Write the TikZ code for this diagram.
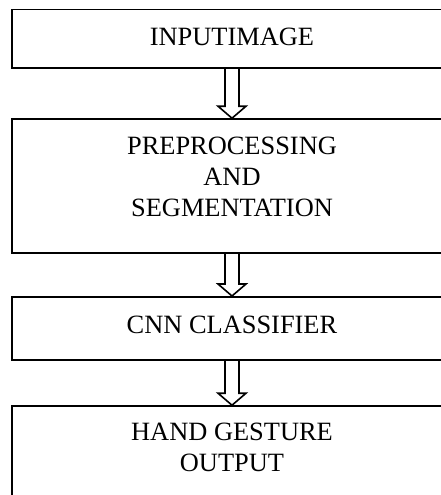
\documentclass[tikz,border=0pt]{standalone}
\usepackage{fontspec}
\setmainfont{Liberation Serif}
\usetikzlibrary{calc}
\tikzset{
  stagebox/.style={draw=black,line width=0.9pt,
                   minimum width=220pt,inner xsep=0pt,inner ysep=0pt,
                   anchor=base,align=center,
                   font=\fontsize{13.2}{15.5}\selectfont},
  hollowarr/.style={draw=black,line width=0.8pt,line join=miter}
}
% block arrow from the bottom of one box to the top of the next
\newcommand{\downarr}[2]{%
  \draw[hollowarr,xshift=0.8pt] let \p1=(#1.south), \p2=(#2.north) in
    (\x1-3.5pt,\y1) -- (\x1-3.5pt,\y2+6pt) -- (\x1-7pt,\y2+6pt) -- (\x1,\y2)
    -- (\x1+7pt,\y2+6pt) -- (\x1+3.5pt,\y2+6pt) -- (\x1+3.5pt,\y1);}

\begin{document}
\begin{tikzpicture}[x=0.5pt,y=-0.5pt]
  \clip (0,0) rectangle (441,495);
  \node[stagebox,text height=17.75pt,text depth=11.5pt] (input) at (232,45) {INPUTIMAGE};
  \node[stagebox,text height=48.8pt,text depth=18.2pt] (prep) at (232,216.7) {PREPROCESSING\\AND\\SEGMENTATION};
  \node[stagebox,text height=18.2pt,text depth=13.3pt] (cnn) at (232,333.3) {CNN CLASSIFIER};
  \node[stagebox,text height=32.8pt,text depth=19pt] (out) at (232,471.7) {HAND GESTURE\\OUTPUT};
  \downarr{input}{prep}
  \downarr{prep}{cnn}
  \downarr{cnn}{out}
\end{tikzpicture}
\end{document}
